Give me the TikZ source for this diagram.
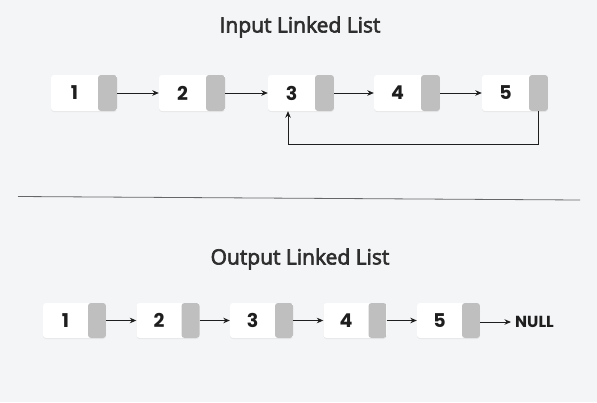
\documentclass[tikz,border=0pt]{standalone}
\usepackage{fontspec}
\setmainfont{Poppins}
\newfontfamily\titlefont[FakeBold=3]{Open Sans}
\usetikzlibrary{arrows.meta,shadows}
\definecolor{bg}{HTML}{F4F5F7}
\definecolor{cellgrey}{HTML}{BFBFBF}
\definecolor{ink}{HTML}{1E1E1E}
\definecolor{titleink}{HTML}{2E2E2E}
\tikzset{
  cell/.style={rounded corners=3pt, fill=white, inner sep=0pt,
    drop shadow={opacity=0.12, shadow xshift=0pt, shadow yshift=-1pt},
    font=\bfseries\fontsize{19}{19}\selectfont, text=ink},
  bigcell/.style={cell, minimum height=36pt,
    path picture={\fill[cellgrey] ([xshift=-19pt]path picture bounding box.north east) rectangle (path picture bounding box.south east);}},
  smallcell/.style={cell, minimum height=35pt,
    path picture={\fill[cellgrey] ([xshift=-18pt]path picture bounding box.north east) rectangle (path picture bounding box.south east);}},
  arr/.style={draw=ink, line width=0.9pt, -{Stealth[length=6.5pt,width=5.5pt]}},
  heading/.style={font=\titlefont\fontsize{21}{21}\selectfont, text=titleink},
}
\newcommand{\bigtext}[1]{\makebox[66pt][l]{\makebox[47pt]{#1}}}
\newcommand{\smalltext}[1]{\makebox[63pt][l]{\makebox[45pt]{#1}}}
\begin{document}
\begin{tikzpicture}[x=1pt,y=-1pt]
\fill[bg] (0,0) rectangle (597,402);
\useasboundingbox (0,0) rectangle (597,402);

\node[heading] (t1) at (300,27) {Input Linked List};
\node[bigcell] (a1) at (84,93) {\bigtext{1}};
\node[bigcell] (a2) at (192,93) {\bigtext{2}};
\node[bigcell] (a3) at (301,93) {\bigtext{3}};
\node[bigcell] (a4) at (407,93) {\bigtext{4}};
\node[bigcell] (a5) at (515,93) {\bigtext{5}};
\draw[arr] (a1) -- (a2);
\draw[arr] (a2) -- (a3);
\draw[arr] (a3) -- (a4);
\draw[arr] (a4) -- (a5);
\draw[arr] ([xshift=-9.5pt]a5.south east) -- ++(0,33) -| ([xshift=-13pt]a3.south);

\draw[draw=gray!80!black, line width=0.8pt] (18,196.5) -- (580,200);

\node[heading] (t2) at (300,259) {Output Linked List};
\node[smallcell] (b1) at (74.5,320.5) {\smalltext{1}};
\node[smallcell] (b2) at (168,320.5) {\smalltext{2}};
\node[smallcell] (b3) at (261.5,320.5) {\smalltext{3}};
\node[smallcell] (b4) at (355,320.5) {\smalltext{4}};
\node[smallcell] (b5) at (448.5,320.5) {\smalltext{5}};
\node[font=\bfseries\fontsize{16}{16}\selectfont, text=ink, anchor=west, inner sep=0pt] (null) at (515,322) {NULL};
\draw[arr] (b1) -- (b2);
\draw[arr] (b2) -- (b3);
\draw[arr] (b3) -- (b4);
\draw[arr] (b4) -- (b5);
\draw[arr] (b5.east |- null.west) -- ([xshift=-4pt]null.west);
\end{tikzpicture}
\end{document}
